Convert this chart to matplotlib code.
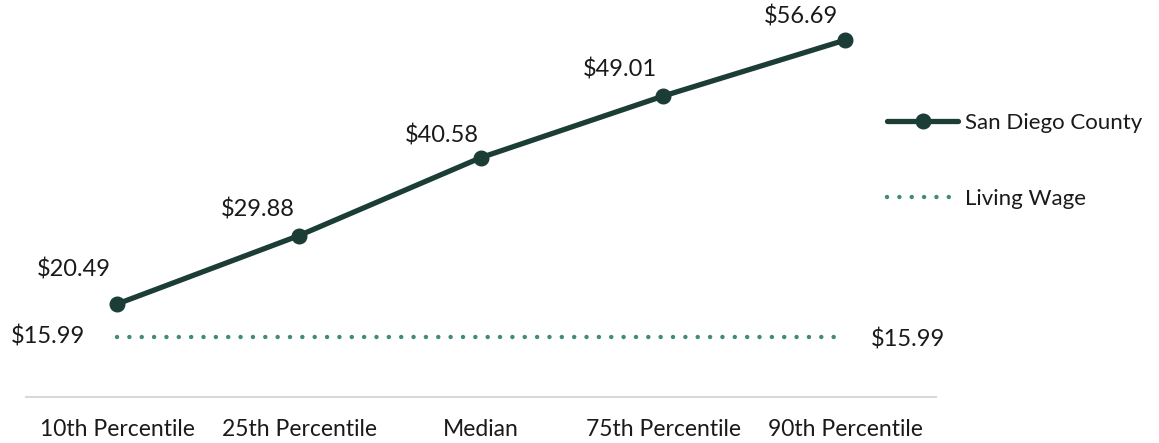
import numpy as np
import matplotlib
matplotlib.use("Agg")
import matplotlib.pyplot as plt

plt.rcParams['font.family'] = ['Lato', 'DejaVu Sans']

# data
categories = ["10th Percentile", "25th Percentile", "Median", "75th Percentile", "90th Percentile"]
county_wage = [20.49, 29.88, 40.58, 49.01, 56.69]
living_wage = [15.99, 15.99, 15.99, 15.99, 15.99]

dark_green = "#1c3d36"
teal = "#3f8a7a"
text_color = "#1a1a1a"

fig = plt.figure(figsize=(11.59, 4.43), dpi=100)
ax = fig.add_axes([26 / 1159, 1 - 397 / 443, 910 / 1159, (397 - 16) / 443])

x = np.arange(len(categories))
ax.plot(x, county_wage, color=dark_green, lw=3.8, marker="o", markersize=10.5,
        solid_capstyle="round", label="San Diego County", zorder=3)
ax.plot(x, living_wage, color=teal, lw=3.2, linestyle=(0, (0.01, 2.77)),
        dash_capstyle="round", label="Living Wage", zorder=2)

# value labels (offsets in points)
offsets = [(-31, 25), (-30, 19), (-28, 16), (-31, 19), (-32, 17)]
for xi, v, off in zip(x, county_wage, offsets):
    ax.annotate(f"${v:.2f}", (xi, v), xytext=off, textcoords="offset points",
                ha="center", va="center", fontsize=17, color=text_color)
ax.annotate(f"${living_wage[0]:.2f}", (x[0], living_wage[0]), xytext=(-50, 0),
            textcoords="offset points", ha="center", va="center", fontsize=17, color=text_color)
ax.annotate(f"${living_wage[-1]:.2f}", (x[-1], living_wage[-1]), xytext=(45, -2),
            textcoords="offset points", ha="center", va="center", fontsize=17, color=text_color)

ax.set_xlim(-0.5, len(categories) - 0.5)
ax.set_ylim(7.74, 60)
ax.set_xticks(x)
ax.set_xticklabels(categories, fontsize=16.5, color=text_color)
ax.tick_params(axis="x", length=0, pad=16)
ax.set_yticks([])
for side in ["top", "right", "left"]:
    ax.spines[side].set_visible(False)
ax.spines["bottom"].set_color("#d9d9d9")
ax.spines["bottom"].set_linewidth(1.5)

fig.legend(loc="upper left", bbox_to_anchor=(867 / 1159, 1 - 93 / 443),
           frameon=False, fontsize=16, handlelength=3.2, handletextpad=0.3,
           labelspacing=2.5, labelcolor=text_color)

fig.savefig("out.png", dpi=100)
